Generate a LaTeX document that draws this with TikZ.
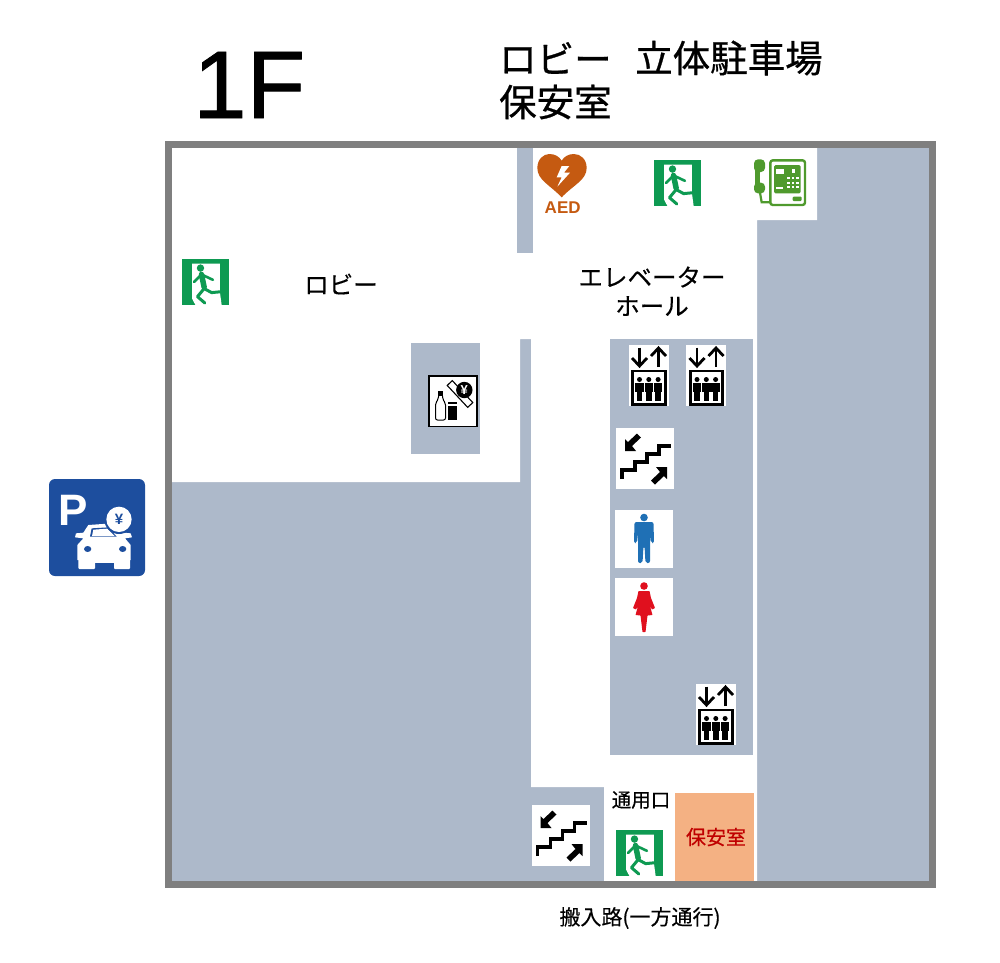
\documentclass[tikz,border=0pt]{standalone}
\usepackage{fontspec}
\setmainfont{Liberation Sans}
\newfontfamily\cjkfont[FakeBold=0.3]{Noto Sans CJK JP}
\newfontfamily\cjkheavy[FakeBold=0.7]{Noto Sans CJK JP}
\newfontfamily\floorfont[FakeBold=0.9]{Liberation Sans}
\usepackage{xcolor}
\definecolor{roomgray}{HTML}{ADB9CA}
\definecolor{wallgray}{HTML}{7F7F7F}
\definecolor{guardorange}{HTML}{F4B183}
\definecolor{guardred}{HTML}{C00000}
\definecolor{exitgreen}{HTML}{0E9A52}
\definecolor{phonegreen}{HTML}{4F9A2D}
\definecolor{aedbrown}{HTML}{C55A11}
\definecolor{parkblue}{HTML}{1D4E9E}
\definecolor{manblue}{HTML}{1F70B5}
\definecolor{womanred}{HTML}{E0101E}
\newcommand{\prsize}[1]{\fontsize{#1}{#1}\selectfont}
\tikzset{
  jplabel/.style={inner sep=0pt,font=\cjkfont\prsize{#1}},
  jptitle/.style={inner sep=0pt,anchor=west,font=\cjkheavy\prsize{37.5}},
  stairline/.style={line width=3.4pt,line join=miter},
  liftarrow/.style={line width=2.8pt,line join=miter},
  exitlimb/.style={exitgreen,line cap=round,line join=round}
}
\newcommand{\prexit}[2]{
  \begin{scope}[shift={(#1,#2)},scale=0.336]
    \fill[exitgreen] (0,0) rectangle (140,137);
    \fill[white] (30,14) -- (113,14) -- (113,100) -- (118,137) -- (40,137) -- (30,118) -- cycle;
    \fill[exitgreen] (55,27) circle (11);
    \draw[exitlimb,line width=2.6pt] (36,68) -- (58,46) -- (92,62);
    \draw[exitlimb,line width=5.5pt] (58,46) -- (66,84);
    \draw[exitlimb,line width=3pt] (66,88) -- (88,100) -- (120,97);
    \draw[exitlimb,line width=3pt] (66,88) -- (46,112) -- (68,131);
  \end{scope}
}
\newcommand{\prperson}[1]{
  \fill (#1,34.5) circle (2.5);
  \fill (#1-4.2,37.5) rectangle (#1+4.2,47);
  \fill (#1-2.8,47) rectangle (#1+2.8,56);
}
\newcommand{\prlift}[2]{
  \begin{scope}[shift={(#1,#2)}]
    \fill[white] (0,0) rectangle (40,61);
    \draw[liftarrow] (11,2.5) -- (11,21);
    \draw[liftarrow] (3.5,13) -- (11,21) -- (18.5,13);
    \draw[liftarrow] (30,22) -- (30,3);
    \draw[liftarrow] (22.5,11) -- (30,3) -- (37.5,11);
    \draw[line width=2.8pt] (4.2,26) rectangle (36.6,59.4);
    \prperson{11}
    \prperson{20.3}
    \prperson{29.6}
  \end{scope}
}
\newcommand{\prstairs}[2]{
  \begin{scope}[shift={(#1,#2)}]
    \fill[white] (0,0) rectangle (58,61);
    \draw[stairline] (6,51) -- (6,42) -- (19,42) -- (19,34) -- (31,34) -- (31,26) -- (43,26) -- (43,18) -- (55,18);
    \fill (9,23) -- (9,11) -- (12,14) -- (21,5.5) -- (25,9.5) -- (16,18) -- (20,23) -- cycle;
    \fill (51,39) -- (51,51) -- (48,48) -- (39,56.5) -- (35,52.5) -- (44,44) -- (40,39) -- cycle;
  \end{scope}
}
\begin{document}
\begin{tikzpicture}[x=1pt,y=-1pt]
    \useasboundingbox (0,0) rectangle (1000,962);

    % rooms
    \fill[roomgray] (172,148) rectangle (929,881);
    \fill[white] (172,148) -- (817,148) -- (817,220) -- (757,220) -- (757,881) -- (604,881) -- (604,787) -- (531,787) -- (531,339) -- (520,339) -- (520,482) -- (172,482) -- cycle;
    \fill[roomgray] (517,148) rectangle (533,253);
    \fill[roomgray] (610,339) rectangle (753,755);
    \fill[roomgray] (411,343) rectangle (480,454);
    \fill[guardorange] (675,793) rectangle (754,881);
    \draw[wallgray,line width=7pt] (168.5,144.5) rectangle (932,884);

    % titles
    \node[anchor=base west,inner sep=0pt,font=\floorfont\prsize{96}] (floorname) at (193,118) {1F};
    \node[jptitle] (titlelobby) at (499,58) {ロビー};
    \node[jptitle] (titlepark) at (635,58) {立体駐車場};
    \node[jptitle] (titleguard) at (499,102) {保安室};

    % labels
    \node[jplabel=24.5] (lobby) at (341,284) {ロビー};
    \node[jplabel=24.5] (hallone) at (652,277) {エレベーター};
    \node[jplabel=24.5] (halltwo) at (652,306) {ホール};
    \node[jplabel=19.5] (service) at (641,800) {通用口};
    \node[jplabel=20,text=guardred] (guard) at (716,837) {保安室};
    \node[jplabel=21] (entry) at (640,918) {搬入路(一方通行)};

    % exits
    \prexit{654}{160}
    \prexit{182}{259}
    \prexit{616}{830}

    % lifts
    \prlift{628.5}{345}
    \prlift{686}{345}
    \prlift{695.5}{684}

    % stairs
    \prstairs{616}{428}
    \prstairs{531.5}{805}

    % aed
    \begin{scope}[shift={(510,140)},scale=1/3]
      \fill[aedbrown] (155,172) .. controls (120,135) and (82,120) .. (82,84) .. controls (82,58) and (100,42) .. (118,42) .. controls (135,42) and (148,50) .. (155,62) .. controls (162,50) and (175,42) .. (192,42) .. controls (212,42) and (230,58) .. (230,84) .. controls (230,120) and (190,135) .. (155,172) -- cycle;
      \fill[white] (155,78) -- (140,112) -- (155,112) -- (142,140) -- (180,98) -- (162,98) -- (178,78) -- cycle;
      \node[inner sep=0pt,text=aedbrown,font=\bfseries\prsize{17}] (aedtext) at (158,203) {AED};
    \end{scope}

    % phone
    \begin{scope}[shift={(510,140)},scale=1/3]
      \draw[phonegreen,line width=2.4pt,rounded corners=2.5pt] (781,61) rectangle (885,195);
      \fill[phonegreen,rounded corners=1.5pt] (792,75) rectangle (872,160);
      \fill[white] (798,88) rectangle (822,103);
      \fill[white] (798,141) rectangle (820,148);
      \fill[white] (845,86) rectangle (856,100);
      \fill[white] (832,112) rectangle (840,118);
      \fill[white] (845,112) rectangle (853,118);
      \fill[white] (858,112) rectangle (866,118);
      \fill[white] (832,125) rectangle (840,131);
      \fill[white] (845,125) rectangle (853,131);
      \fill[white] (858,125) rectangle (866,131);
      \fill[white] (832,138) rectangle (840,144);
      \fill[white] (845,138) rectangle (853,144);
      \fill[white] (858,138) rectangle (866,144);
      \fill[phonegreen,rounded corners=1pt] (848,170) rectangle (875,183);
      \draw[phonegreen,line width=5pt] (741,70) -- (741,150);
      \fill[phonegreen,rounded corners=4pt] (732,58) rectangle (765,96);
      \fill[phonegreen,rounded corners=4pt] (732,128) rectangle (765,160);
      \draw[phonegreen,line width=2.2pt] (750,158) -- (755,187) -- (780,187);
    \end{scope}

    % toilets
    \fill[white] (615,510) rectangle (673,568);
    \fill[manblue] (644,517.5) circle (3.8);
    \fill[manblue,rounded corners=2pt] (634.5,522) -- (653.5,522) -- (654,543) -- (651,543) -- (650,533) -- (650,563) -- (645.5,563) -- (644.5,546) -- (643.5,546) -- (642.5,563) -- (638,563) -- (638,533) -- (637,543) -- (634,543) -- cycle;
    \fill[white] (615,578) rectangle (673,636);
    \fill[womanred] (644,586) circle (3.8);
    \fill[womanred,rounded corners=0.5pt] (638.5,591) -- (649.5,591) -- (651,598) -- (655,608) -- (652,609.5) -- (650,606) -- (652.5,615) -- (647.5,615.5) -- (645.5,632) -- (642.5,632) -- (640.5,615.5) -- (635.5,615) -- (638,606) -- (636,609.5) -- (633,608) -- (637,598) -- cycle;

    % vending
    \begin{scope}[shift={(429,376)}]
      \draw[fill=white,line width=1.1pt] (0,0) rectangle (48,50.5);
      \draw[fill=white,line width=1.1pt,rotate around={-47:(31,18)}] (16,14.5) rectangle (46,21.5);
      \fill (35.3,14) circle (8.2);
      \node[inner sep=0pt,text=white,font=\bfseries\prsize{13}] (vendyen) at (35.3,14) {¥};
      \draw[line width=1pt,rounded corners=2pt] (9.5,20) -- (9.5,23) -- (6.5,27) -- (6.5,44) -- (16.5,44) -- (16.5,27) -- (13.5,23) -- (13.5,20);
      \fill (9,15) rectangle (14,19.5);
      \fill (19,26) rectangle (28,28);
      \fill (19,29.5) rectangle (28,44);
    \end{scope}

    % parking
    \fill[parkblue,rounded corners=6pt] (49,479) rectangle (145,576);
    \node[inner sep=0pt,anchor=base west,text=white,font=\bfseries\prsize{44}] (parkp) at (58,525) {P};
    \begin{scope}[shift={(40,470)},scale=1/3]
      \fill[white] (112,270) -- (112,225) -- (130,205) -- (105,202) -- (108,190) -- (130,188) -- (145,165) -- (215,160) -- (250,188) -- (272,190) -- (276,202) -- (255,205) -- (272,225) -- (272,270) -- cycle;
      \fill[white,rounded corners=1pt] (115,265) rectangle (165,297);
      \fill[white,rounded corners=1pt] (222,265) rectangle (270,297);
      \fill[white] (165,265) rectangle (222,278);
      \fill[parkblue] (150,200) -- (155,175) -- (205,172) -- (230,200) -- cycle;
      \fill[white] (156,198) -- (160,179) -- (202,176) -- (224,198) -- cycle;
      \fill[parkblue] (143,237) ellipse (11 and 9);
      \fill[parkblue] (248,237) ellipse (11 and 9);
      \fill[parkblue] (237,148) circle (44);
      \fill[white] (237,148) circle (38);
      \node[inner sep=0pt,text=parkblue,font=\bfseries\prsize{15}] (parkyen) at (237,148) {¥};
    \end{scope}
\end{tikzpicture}
\end{document}
